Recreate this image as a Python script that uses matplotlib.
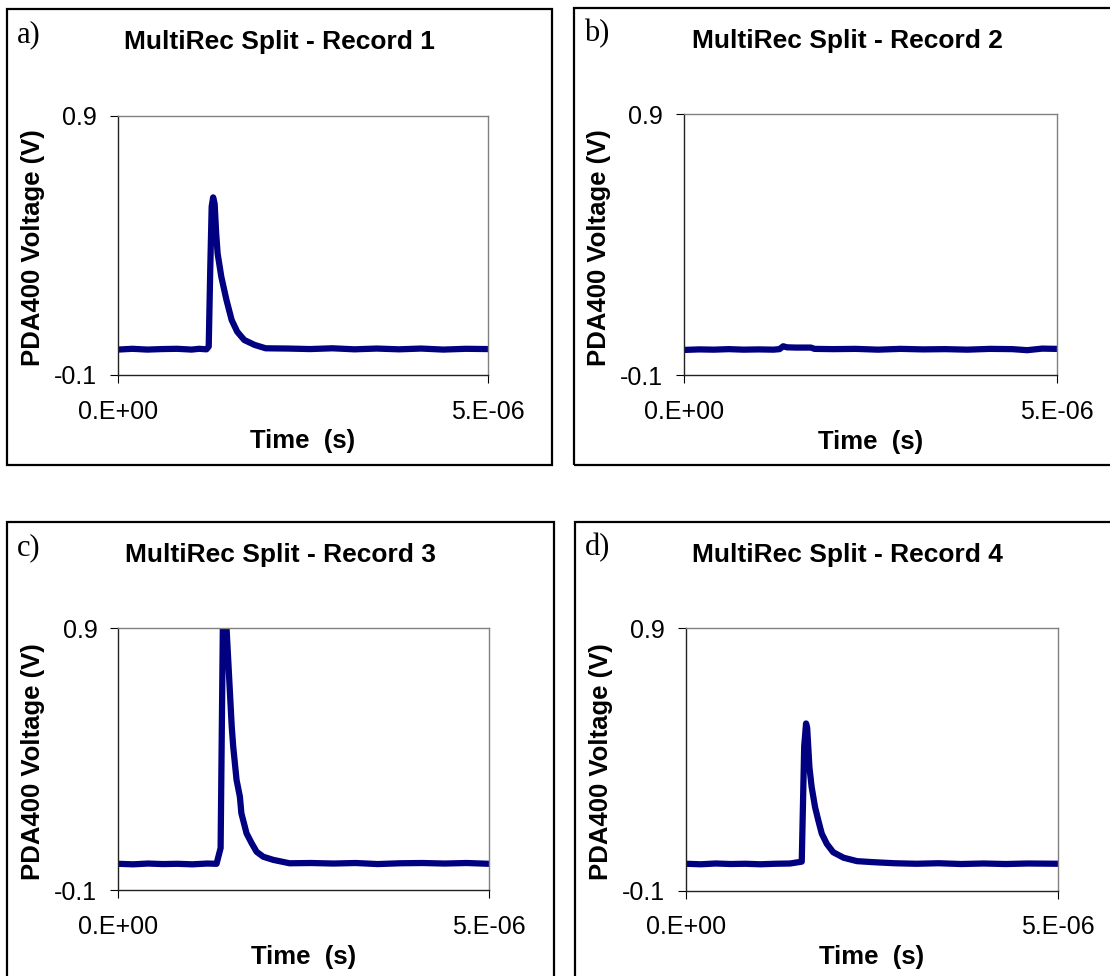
import matplotlib
matplotlib.use("Agg")
import matplotlib.pyplot as plt
from matplotlib.patches import Rectangle
import numpy as np

# time in microseconds, voltage in volts
rec1_t = [0.0, 0.2, 0.4, 0.6, 0.8, 1.0, 1.1, 1.2, 1.23, 1.25, 1.27, 1.29, 1.31, 1.33,
          1.35, 1.40, 1.47, 1.54, 1.615, 1.71, 1.85, 2.0, 2.3, 2.6, 2.9, 3.2,
          3.5, 3.8, 4.1, 4.4, 4.7, 5.0]
rec1_v = [-0.002, 0.001, -0.002, 0.0, 0.001, -0.002, 0.001, -0.001, 0.01, 0.3, 0.55,
          0.585, 0.56, 0.45, 0.369, 0.279, 0.189, 0.112, 0.067, 0.035, 0.016, 0.003,
          0.002, 0.0, 0.003, -0.001, 0.002, -0.001, 0.002, -0.002, 0.001, 0.0]

rec2_t = [0.0, 0.2, 0.4, 0.6, 0.8, 1.0, 1.2, 1.28, 1.33, 1.38, 1.5, 1.7, 1.75, 2.0,
          2.3, 2.6, 2.9, 3.2, 3.5, 3.8, 4.1, 4.4, 4.6, 4.8, 5.0]
rec2_v = [-0.002, 0.0, -0.001, 0.001, -0.001, 0.0, -0.001, 0.001, 0.012, 0.008, 0.007,
          0.007, 0.002, 0.001, 0.002, -0.001, 0.002, 0.0, 0.001, -0.001, 0.002, 0.001,
          -0.003, 0.003, 0.002]

rec3_t = [0.0, 0.2, 0.4, 0.6, 0.8, 1.0, 1.2, 1.325, 1.38, 1.41, 1.43, 1.46, 1.53,
          1.55, 1.595, 1.64, 1.66, 1.73, 1.80, 1.865, 1.955, 2.09, 2.31, 2.6, 2.9,
          3.2, 3.5, 3.8, 4.1, 4.4, 4.7, 5.0]
rec3_v = [0.0, -0.002, 0.001, -0.001, 0.0, -0.002, 0.001, 0.0, 0.06, 0.9, 0.95, 0.899,
          0.523, 0.447, 0.32, 0.256, 0.193, 0.116, 0.078, 0.046, 0.027, 0.015, 0.002,
          0.003, 0.001, 0.003, -0.001, 0.002, 0.003, 0.001, 0.003, 0.0]

rec4_t = [0.0, 0.2, 0.4, 0.6, 0.8, 1.0, 1.2, 1.4, 1.557, 1.59, 1.615, 1.63, 1.66,
          1.69, 1.736, 1.78, 1.826, 1.894, 1.98, 2.12, 2.30, 2.52, 2.8, 3.1, 3.4,
          3.7, 4.0, 4.3, 4.6, 5.0]
rec4_v = [0.002, 0.0, 0.003, 0.001, 0.002, 0.0, 0.002, 0.003, 0.01, 0.45, 0.537, 0.52,
          0.371, 0.295, 0.218, 0.167, 0.117, 0.078, 0.046, 0.025, 0.012, 0.008, 0.004,
          0.002, 0.004, 0.001, 0.003, 0.001, 0.003, 0.002]

records = [(rec1_t, rec1_v), (rec2_t, rec2_v), (rec3_t, rec3_v), (rec4_t, rec4_v)]
titles = ["MultiRec Split - Record 1", "MultiRec Split - Record 2",
          "MultiRec Split - Record 3", "MultiRec Split - Record 4"]
letters = ["a)", "b)", "c)", "d)"]
xtick_vals = [0, 5e-6]
xtick_labels = ["0.E+00", "5.E-06"]
ytick_vals = [-0.1, 0.9]
ytick_labels = ["-0.1", "0.9"]

W, H = 1110, 976

def fig_rect(left, top, right, bottom):
    return [left / W, 1 - bottom / H, (right - left) / W, (bottom - top) / H]

# pixel layout of each chart: outer frame, plot area
frames = [(7, 9, 552, 465), (574, 8, 1125, 465), (7, 522, 554, 990), (575, 522, 1125, 990)]
plots = [(117.7, 115.7, 487.7, 375), (684, 114.5, 1057, 375.5),
         (118.3, 628, 489, 890), (686, 628.3, 1057.7, 890.5)]

sans = "Liberation Sans"
serif = "Liberation Serif"

fig = plt.figure(figsize=(W / 100, H / 100), dpi=100)

for i, ((t, v), title, letter) in enumerate(zip(records, titles, letters)):
    fl, ft, fr, fb = frames[i]
    fig.patches.append(Rectangle((fl / W, 1 - fb / H), (fr - fl) / W, (fb - ft) / H,
                                 transform=fig.transFigure, fill=False,
                                 edgecolor="black", linewidth=1.6))
    cx = (fl + min(fr, 1120)) / 2
    fig.text(cx / W, 1 - (ft + 33) / H, title, ha="center", va="center",
             fontsize=19, fontweight="bold", family=sans)
    fig.text((fl + 10) / W, 1 - (ft + 26) / H, letter, ha="left", va="center",
             fontsize=22, family=serif)

    ax = fig.add_axes(fig_rect(*plots[i]))
    ax.plot(np.array(t) * 1e-6, v, color="#000080", linewidth=4.5,
            solid_joinstyle="round", solid_capstyle="round")
    ax.set_xlim(0, 5e-6)
    ax.set_ylim(-0.1, 0.9)
    ax.set_xticks(xtick_vals)
    ax.set_xticklabels(xtick_labels, family=sans, fontsize=18)
    ax.set_yticks(ytick_vals)
    ax.set_yticklabels(ytick_labels, family=sans, fontsize=18)
    ax.tick_params(axis="x", direction="out", length=6, width=0.8, pad=12)
    ax.tick_params(axis="y", direction="out", length=6, width=0.8, pad=9)
    for side in ["top", "right"]:
        ax.spines[side].set_color("#808080")
        ax.spines[side].set_linewidth(1.0)
    for side in ["left", "bottom"]:
        ax.spines[side].set_color("#222222")
        ax.spines[side].set_linewidth(1.0)
    ax.set_xlabel("Time  (s)", family=sans, fontsize=18.5, fontweight="bold")
    ax.set_ylabel("PDA400 Voltage (V)", family=sans, fontsize=18.5, fontweight="bold")
    ax.xaxis.set_label_coords(0.5, -0.255)
    ax.yaxis.set_label_coords(-0.229, 0.49)
    ax.xaxis.label.set_va("center")
    ax.yaxis.label.set_va("center")

fig.savefig("out.png", dpi=100)
